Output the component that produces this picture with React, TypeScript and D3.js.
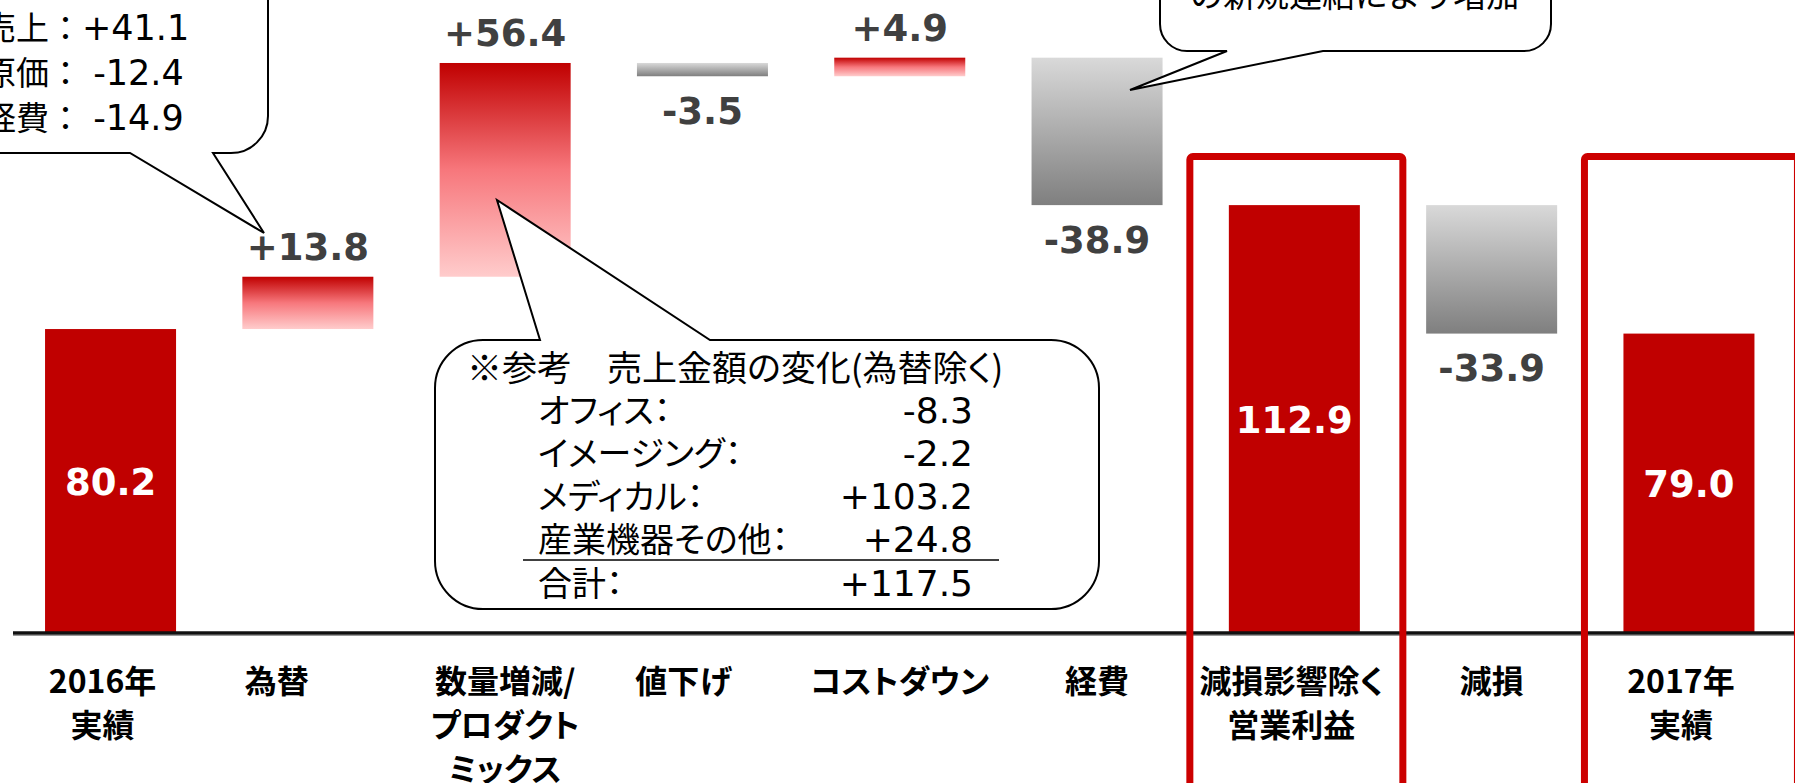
import React from 'react';
import * as d3 from 'd3';

// ---------- data ----------
const categories = ['2016年実績', '為替', '数量増減/プロダクトミックス', '値下げ', 'コストダウン', '経費', '減損影響除く営業利益', '減損', '2017年実績'];
const categoryLines = [
  ['2016年', '実績'],
  ['為替'],
  ['数量増減/', 'プロダクト', 'ミックス'],
  ['値下げ'],
  ['コストダウン'],
  ['経費'],
  ['減損影響除く', '営業利益'],
  ['減損'],
  ['2017年', '実績'],
];
const values = [80.2, 13.8, 56.4, -3.5, 4.9, -38.9, 112.9, -33.9, 79.0];
const isTotal = [true, false, false, false, false, false, true, false, true];
const highlighted = [false, false, false, false, false, false, true, false, true];

const note1Labels = ['売上：', '原価：', '経費：'];
const note1Values = [41.1, -12.4, -14.9];
const note2Title = '※参考　売上金額の変化(為替除く)';
const note2Labels = ['オフィス：', 'イメージング：', 'メディカル：', '産業機器その他：'];
const note2Values = [-8.3, -2.2, 103.2, 24.8];
const note2TotalLabel = '合計：';
const note2Total = 117.5;
const note3Text = 'の新規連結により増加';

// ---------- layout ----------
const W = 1795;
const H = 783;
const labelShift = [-8, -31, 0, -19, 0, 0, -3, 0, -8];

const locale = d3.formatLocale({ decimal: '.', thousands: ',', grouping: [3], currency: ['', ''], minus: '-' });
const fmtDelta = locale.format('+.1f');
const fmtTotal = locale.format('.1f');

const NUM_FONT = "'DejaVu Sans', 'Noto Sans CJK JP', sans-serif";
const JP_FONT = "'Noto Sans CJK JP', 'DejaVu Sans', sans-serif";
const PALT = { fontFeatureSettings: "'palt'" } as React.CSSProperties;

function calloutPath(
  x0: number, y0: number, x1: number, y1: number, r: number,
  side: 'top' | 'bottom', b1: number, b2: number, ax: number, ay: number
) {
  const p = d3.path();
  p.moveTo(x0 + r, y0);
  if (side === 'top') {
    p.lineTo(b1, y0);
    p.lineTo(ax, ay);
    p.lineTo(b2, y0);
  }
  p.lineTo(x1 - r, y0);
  p.arcTo(x1, y0, x1, y0 + r, r);
  p.lineTo(x1, y1 - r);
  p.arcTo(x1, y1, x1 - r, y1, r);
  if (side === 'bottom') {
    p.lineTo(b2, y1);
    p.lineTo(ax, ay);
    p.lineTo(b1, y1);
  }
  p.lineTo(x0 + r, y1);
  p.arcTo(x0, y1, x0, y1 - r, r);
  p.lineTo(x0, y0 + r);
  p.arcTo(x0, y0, x0 + r, y0, r);
  p.closePath();
  return p.toString();
}

export default function App() {
  const x = d3.scaleBand<string>().domain(categories).range([11.9, 11.9 + 9 * 197.3]).paddingInner(0.336).paddingOuter(0.168);
  const y = d3.scaleLinear().domain([0, 160]).range([633, 633 - 160 * 3.79]);

  let run = 0;
  const bars = values.map((v, i) => {
    let a: number, b: number;
    if (isTotal[i]) {
      a = 0; b = v; run = v;
    } else {
      a = run; b = run + v; run += v;
    }
    return { cat: categories[i], v, lo: Math.min(a, b), hi: Math.max(a, b), total: isTotal[i] };
  });

  const bw = x.bandwidth();
  const baseY = y(0);
  const LFS = 37;

  return (
    <svg width={W} height={H} style={{ position: 'absolute', left: 0, top: 0, background: '#fff' }}>
      <defs>
        <linearGradient id="gUp" x1="0" y1="0" x2="0" y2="1">
          <stop offset="0%" stopColor="#C00000" />
          <stop offset="50%" stopColor="#F7777C" />
          <stop offset="100%" stopColor="#FFCCCC" />
        </linearGradient>
        <linearGradient id="gDown" x1="0" y1="0" x2="0" y2="1">
          <stop offset="0%" stopColor="#D9D9D9" />
          <stop offset="100%" stopColor="#7F7F7F" />
        </linearGradient>
      </defs>

      {/* bars */}
      {bars.map((b, i) => (
        <rect
          key={'bar' + i}
          x={x(b.cat)}
          y={y(b.hi)}
          width={bw}
          height={y(b.lo) - y(b.hi)}
          fill={b.total ? '#C00000' : b.v >= 0 ? 'url(#gUp)' : 'url(#gDown)'}
        />
      ))}

      {/* value labels */}
      {bars.map((b, i) => {
        const cx = (x(b.cat) as number) + bw / 2;
        if (b.total) {
          const cy = (y(b.hi) + y(b.lo)) / 2;
          return (
            <text key={'vl' + i} x={cx} y={cy + LFS * 0.365} textAnchor="middle" fontFamily={NUM_FONT} fontWeight="bold" fontSize={LFS} fill="#fff">
              {fmtTotal(b.v)}
            </text>
          );
        }
        const cy = b.v >= 0 ? y(b.hi) - 30 : y(b.lo) + 34;
        return (
          <text key={'vl' + i} x={cx} y={cy + LFS * 0.365} textAnchor="middle" fontFamily={NUM_FONT} fontWeight="bold" fontSize={LFS} fill="#404040">
            {fmtDelta(b.v)}
          </text>
        );
      })}

      {/* axis line */}
      <line x1={13} x2={W} y1={baseY} y2={baseY} stroke="#111" strokeWidth={3.5} />
      <line x1={13} x2={W} y1={baseY + 2.5} y2={baseY + 2.5} stroke="#999" strokeWidth={1} />

      {/* category labels */}
      {categoryLines.map((lines, i) => {
        const cx = (x(categories[i]) as number) + bw / 2 + labelShift[i];
        return (
          <text key={'cl' + i} textAnchor="middle" fontFamily={JP_FONT} fontWeight="bold" fontSize={32} fill="#000" style={PALT}>
            {lines.map((ln, j) => (
              <tspan key={j} x={cx} y={693 + j * 44}>{ln}</tspan>
            ))}
          </text>
        );
      })}

      {/* highlight boxes */}
      {bars.map((b, i) => {
        if (!highlighted[i]) return null;
        const cx = (x(b.cat) as number) + bw / 2;
        const left = cx - 108 + 3.5;
        const right = cx + 112 - 3.5;
        return (
          <rect key={'hb' + i} x={left} y={156.5} width={right - left} height={700} rx={3} fill="none" stroke="#CC0000" strokeWidth={7} />
        );
      })}

      {/* callout 1 (top-left) */}
      <path d={calloutPath(-120, -120, 268, 153, 37, 'bottom', 130, 213, 264, 233)} fill="#fff" stroke="#000" strokeWidth={2} />
      {note1Labels.map((lb, i) => (
        <text key={'n1' + i} x={-17} y={40 + i * 45} fontFamily={NUM_FONT} fontSize={35} fill="#000">
          <tspan fontFamily={JP_FONT} fontSize={33}>{lb}</tspan>
          <tspan>{(note1Values[i] < 0 ? ' ' : '') + fmtDelta(note1Values[i])}</tspan>
        </text>
      ))}

      {/* callout 3 (top-right) */}
      <path d={calloutPath(1160, -120, 1551, 51, 27, 'bottom', 1227, 1323, 1130, 90)} fill="#fff" stroke="#000" strokeWidth={2} />
      <text x={1190} y={7} fontFamily={JP_FONT} fontSize={33} fill="#000">{note3Text}</text>

      {/* callout 2 (middle) */}
      <path d={calloutPath(435, 340, 1099, 609, 48, 'top', 540, 710, 497, 200)} fill="#fff" stroke="#000" strokeWidth={2} />
      <text x={467} y={381} fontFamily={JP_FONT} fontSize={35} fill="#000" style={PALT}>{note2Title}</text>
      {note2Labels.map((lb, i) => (
        <g key={'n2' + i}>
          <text x={538} y={423 + i * 43} fontFamily={JP_FONT} fontSize={34} fill="#000" style={PALT}>{lb}</text>
          <text x={973} y={423 + i * 43} textAnchor="end" fontFamily={NUM_FONT} fontSize={36} fill="#000">{fmtDelta(note2Values[i])}</text>
        </g>
      ))}
      <line x1={523} x2={999} y1={560} y2={560} stroke="#000" strokeWidth={1.5} />
      <text x={538} y={596} fontFamily={JP_FONT} fontSize={34} fill="#000" style={PALT}>{note2TotalLabel}</text>
      <text x={973} y={596} textAnchor="end" fontFamily={NUM_FONT} fontSize={36} fill="#000">{fmtDelta(note2Total)}</text>
    </svg>
  );
}
